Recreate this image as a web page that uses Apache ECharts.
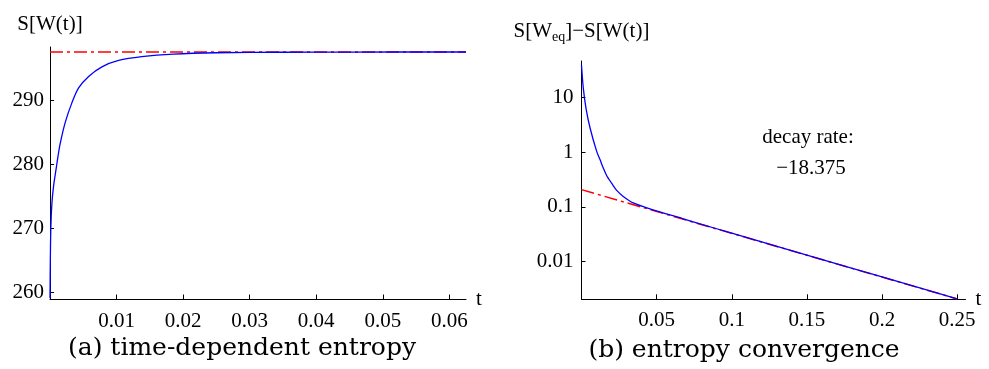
<!DOCTYPE html>
<html>
<head>
<meta charset="utf-8">
<script src="https://cdn.jsdelivr.net/npm/echarts@6/dist/echarts.min.js"></script>
<style>
  html, body { margin: 0; padding: 0; background: #fff; }
  #chart { width: 989px; height: 369px; }
</style>
</head>
<body>
<div id="chart"></div>
<script>
// (a) time-dependent entropy
const entropyT = [0, 0.00005, 0.00013, 0.00029, 0.00053, 0.00093, 0.0012, 0.00153, 0.00229, 0.0033,
  0.0043, 0.0058, 0.0078, 0.0103, 0.0138, 0.0186, 0.025, 0.035, 0.045, 0.0625];
const entropyS = [259.1, 265.1, 270.3, 274.0, 276.6, 279.4, 281.3, 283.3, 286.6, 289.7,
  292.0, 293.8, 295.3, 296.3, 296.9, 297.3, 297.5, 297.58, 297.61, 297.62];
const entropyEqT = [0, 0.0625];
const entropyEq = [297.63, 297.63];
const entropyXTicks = [0.01, 0.02, 0.03, 0.04, 0.05, 0.06];
const entropyYTicks = [260, 270, 280, 290];

// (b) entropy convergence
const gapT = [0, 0.0012, 0.003, 0.0057, 0.0101, 0.0123, 0.0145, 0.0168, 0.0211, 0.0234, 0.0278,
  0.0344, 0.0455, 0.0677, 0.0899, 0.1, 0.15, 0.2, 0.25];
const gapS = [38.5, 14.7, 6.3, 2.75, 1.03, 0.73, 0.51, 0.37, 0.245, 0.200, 0.155,
  0.118, 0.092, 0.0605, 0.0398, 0.0330, 0.01315, 0.00524, 0.00209];
const fitT = [0, 0.25];
const fitS = [0.206, 0.00208];
const gapXTicks = [0.05, 0.1, 0.15, 0.2, 0.25];
const gapYTicks = [0.01, 0.1, 1, 10];
const decayRate = "\u221218.375";

const font = "Liberation Serif";
const captionFont = "DejaVu Serif";

const chart = echarts.init(document.getElementById("chart"));

const axisCommon = {
  axisLine: { onZero: false, lineStyle: { color: "#000", width: 1 } },
  axisTick: { inside: true, length: 5, lineStyle: { color: "#000" } },
  splitLine: { show: false },
  axisLabel: { color: "#000", fontFamily: font, fontSize: 21 },
  nameTextStyle: { color: "#000", fontFamily: font, fontSize: 21 },
};

function pairs(xs, ys) {
  return xs.map((x, i) => [x, ys[i]]);
}

const option = {
  animation: false,
  grid: [
    { left: 50, top: 47, width: 416, height: 252.5 },
    { left: 581.5, top: 61, width: 384, height: 238.3 },
  ],
  xAxis: [
    {
      ...axisCommon,
      type: "value",
      gridIndex: 0,
      min: 0,
      max: 0.0625,
      name: "t",
      nameLocation: "end",
      nameGap: 10,
      axisTick: { ...axisCommon.axisTick, customValues: entropyXTicks },
      axisLabel: { ...axisCommon.axisLabel, margin: 11, customValues: entropyXTicks },
    },
    {
      ...axisCommon,
      type: "value",
      gridIndex: 1,
      min: 0,
      max: 0.2555,
      name: "t",
      nameLocation: "end",
      nameGap: 10,
      axisTick: { ...axisCommon.axisTick, customValues: gapXTicks },
      axisLabel: { ...axisCommon.axisLabel, margin: 11, customValues: gapXTicks },
    },
  ],
  yAxis: [
    {
      ...axisCommon,
      type: "value",
      gridIndex: 0,
      min: 258.9,
      max: 298.4,
      name: "S[W(t)]",
      nameLocation: "end",
      nameGap: 12,
      axisTick: { ...axisCommon.axisTick, length: 4, customValues: entropyYTicks },
      axisLabel: { ...axisCommon.axisLabel, margin: 6, customValues: entropyYTicks },
    },
    {
      ...axisCommon,
      type: "log",
      logBase: 10,
      gridIndex: 1,
      min: 0.00205,
      max: 46,
      name: "S[W{sub|eq}]\u2212S[W(t)]",
      nameLocation: "end",
      nameGap: 17,
      nameTextStyle: {
        ...axisCommon.nameTextStyle,
        rich: { sub: { fontFamily: font, fontSize: 14, color: "#000", padding: [12, 0, 0, 0] } },
      },
      axisTick: { ...axisCommon.axisTick, length: 4, customValues: gapYTicks },
      axisLabel: {
        ...axisCommon.axisLabel,
        margin: 8,
        customValues: gapYTicks,
        formatter: (v) => String(parseFloat(Number(v).toPrecision(3))),
      },
    },
  ],
  series: [
    {
      type: "line",
      xAxisIndex: 0,
      yAxisIndex: 0,
      data: pairs(entropyEqT, entropyEq),
      showSymbol: false,
      lineStyle: { color: "#ff0000", width: 1.5, type: [13, 4, 3, 4] },
      z: 2,
    },
    {
      type: "line",
      xAxisIndex: 0,
      yAxisIndex: 0,
      data: pairs(entropyT, entropyS),
      showSymbol: false,
      smooth: 0.3,
      lineStyle: { color: "#0000ff", width: 1.3 },
      z: 3,
    },
    {
      type: "line",
      xAxisIndex: 1,
      yAxisIndex: 1,
      data: pairs(fitT, fitS),
      showSymbol: false,
      lineStyle: { color: "#ff0000", width: 1.5, type: [13, 4, 3, 4] },
      z: 2,
    },
    {
      type: "line",
      xAxisIndex: 1,
      yAxisIndex: 1,
      data: pairs(gapT, gapS),
      showSymbol: false,
      smooth: 0.3,
      lineStyle: { color: "#0000ff", width: 1.3 },
      z: 3,
    },
  ],
  graphic: [
    {
      type: "text",
      x: 242,
      y: 348,
      style: { text: "(a) time-dependent entropy", font: "25px " + captionFont, fill: "#000", align: "center", verticalAlign: "middle" },
    },
    {
      type: "text",
      x: 744,
      y: 350,
      style: { text: "(b) entropy convergence", font: "25px " + captionFont, fill: "#000", align: "center", verticalAlign: "middle" },
    },
    {
      type: "text",
      x: 808,
      y: 137,
      style: { text: "decay rate:", font: "21px " + font, fill: "#000", align: "center", verticalAlign: "middle" },
    },
    {
      type: "text",
      x: 811,
      y: 168,
      style: { text: decayRate, font: "21px " + font, fill: "#000", align: "center", verticalAlign: "middle" },
    },
  ],
};

chart.setOption(option);
</script>
</body>
</html>
